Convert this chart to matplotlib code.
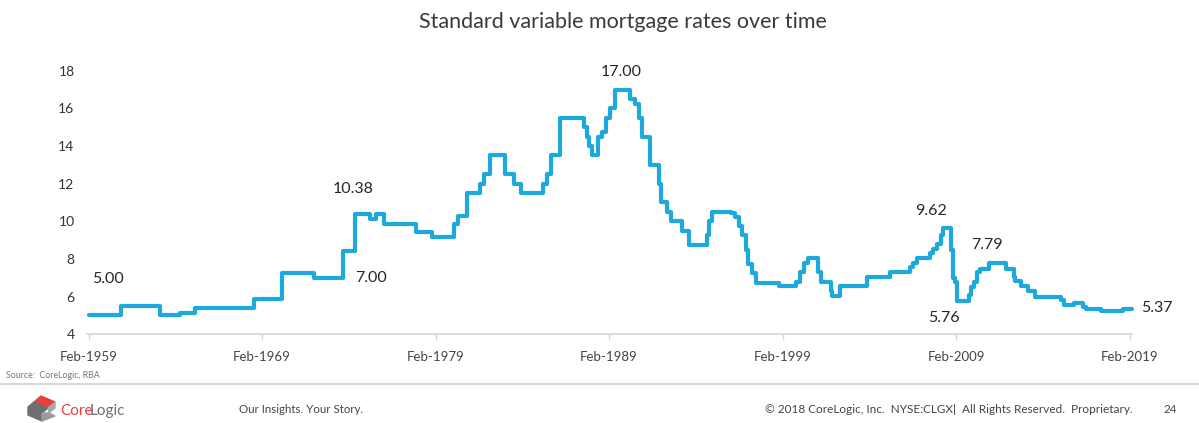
import numpy as np
import matplotlib
matplotlib.use("Agg")
import matplotlib.pyplot as plt
from matplotlib.patches import Polygon

plt.rcParams['font.family'] = ['Lato', 'DejaVu Sans']

# Rate change points (decimal year, rate %)
years = [1959.08, 1960.97, 1963.22, 1964.37, 1965.23, 1968.59, 1970.22, 1972.08,
         1973.74, 1974.45, 1975.31, 1975.66, 1976.08, 1977.97, 1978.87, 1980.15,
         1980.40, 1980.90, 1981.62, 1981.85, 1982.20, 1983.10, 1983.62, 1984.00,
         1985.27, 1985.50, 1985.73, 1986.25, 1987.65, 1987.80, 1987.95, 1988.10,
         1988.45, 1988.70, 1988.90, 1989.15, 1989.45, 1990.30, 1990.60, 1990.80,
         1991.00, 1991.45, 1991.95, 1992.10, 1992.40, 1992.65, 1993.30, 1993.70,
         1994.70, 1994.85, 1995.00, 1996.10, 1996.35, 1996.55, 1996.75, 1996.95,
         1997.10, 1997.30, 1997.55, 1998.90, 1999.85, 2000.10, 2000.30, 2000.55,
         2001.10, 2001.30, 2001.85, 2001.95, 2002.40, 2003.95, 2005.25, 2006.40,
         2006.60, 2006.85, 2007.60, 2007.75, 2008.00, 2008.20, 2008.35, 2008.80,
         2008.90, 2009.00, 2009.15, 2009.85, 2009.95, 2010.10, 2010.30, 2010.45,
         2010.95, 2011.95, 2012.40, 2012.50, 2012.85, 2013.20, 2013.65, 2015.15,
         2015.30, 2015.90, 2016.40, 2016.55, 2017.45, 2018.70, 2018.95, 2019.20]
rates = [5.00, 5.50, 5.00, 5.13, 5.38, 5.90, 7.25, 7.00,
         8.42, 10.38, 10.13, 10.38, 9.88, 9.42, 9.17, 9.88,
         10.30, 11.50, 12.00, 12.50, 13.50, 12.50, 12.00, 11.50,
         12.00, 12.50, 13.50, 15.50, 15.00, 14.50, 14.00, 13.50,
         14.50, 14.75, 15.50, 16.00, 17.00, 16.50, 16.25, 15.50,
         14.50, 13.00, 12.00, 11.00, 10.50, 10.00, 9.50, 8.75,
         9.25, 10.00, 10.50, 10.45, 10.25, 9.75, 9.25, 8.50,
         7.75, 7.25, 6.75, 6.55, 6.80, 7.30, 7.80, 8.05,
         7.30, 6.80, 6.30, 6.05, 6.55, 7.05, 7.30, 7.55,
         7.80, 8.05, 8.30, 8.55, 8.80, 9.30, 9.62, 8.50,
         7.00, 6.80, 5.76, 6.10, 6.50, 6.80, 7.30, 7.45,
         7.79, 7.45, 7.05, 6.85, 6.55, 6.30, 6.00, 5.80,
         5.55, 5.68, 5.45, 5.33, 5.24, 5.33, 5.37, 5.37]

tick_years = [1959.08, 1969.08, 1979.08, 1989.08, 1999.08, 2009.08, 2019.08]
tick_labels = ['Feb-1959', 'Feb-1969', 'Feb-1979', 'Feb-1989', 'Feb-1999', 'Feb-2009', 'Feb-2019']

# Highlighted values: (label, x, y, ha)
callouts = [('5.00', 1960.22, 6.94, 'center'),
            ('10.38', 1974.34, 11.72, 'center'),
            ('7.00', 1975.38, 6.99, 'center'),
            ('17.00', 1989.77, 17.93, 'center'),
            ('9.62', 2007.64, 10.55, 'center'),
            ('7.79', 2010.87, 8.74, 'center'),
            ('5.76', 2008.39, 4.87, 'center'),
            ('5.37', 2019.75, 5.40, 'left')]

W, H = 1199, 423
fig = plt.figure(figsize=(W / 100, H / 100), dpi=100)
fig.patch.set_facecolor('white')

ax = fig.add_axes([87 / W, 1 - 334.3 / H, (1132 - 87) / W, (334.3 - 70.7) / H])
ax.plot(years, rates, drawstyle='steps-post', color='#1ea9dd', lw=3.0,
        solid_joinstyle='round', solid_capstyle='round', clip_on=False)
ax.set_xlim(1958.99, 2019.22)
ax.set_ylim(4, 18)
ax.set_yticks(range(4, 19, 2))
ax.set_xticks(tick_years)
ax.set_xticklabels(tick_labels)
for s in ['top', 'right', 'left']:
    ax.spines[s].set_visible(False)
ax.spines['bottom'].set_color('#d9d9d9')
ax.spines['bottom'].set_linewidth(1.3)
ax.tick_params(axis='y', length=0, pad=9, labelsize=10, labelcolor='#333333')
ax.tick_params(axis='x', length=4, width=1, color='#d9d9d9', pad=8,
               labelsize=9.5, labelcolor='#444444')

for txt, x, y, ha in callouts:
    ax.text(x, y, txt, ha=ha, va='center', fontsize=11.5, color='#262626', clip_on=False)

fig.text(623 / W, 1 - 22 / H, 'Standard variable mortgage rates over time',
         ha='center', va='center', fontsize=15.5, color='#3a3a3a')

# footer
fig.text(6 / W, 1 - 376 / H, 'Source:  CoreLogic, RBA', ha='left', va='center',
         fontsize=6.3, color='#777777')
fig.add_artist(plt.Line2D([0, 1], [1 - 384 / H, 1 - 384 / H], color='#d9d9d9', lw=1.5))
fig.text(239 / W, 1 - 409 / H, 'Our Insights. Your Story.', ha='left', va='center',
         fontsize=8.3, color='#444444')
fig.text(765 / W, 1 - 409 / H,
         '\u00a9 2018 CoreLogic, Inc.  NYSE:CLGX|  All Rights Reserved.  Proprietary.',
         ha='left', va='center', fontsize=8.5, color='#444444')
fig.text(1170 / W, 1 - 409 / H, '24', ha='center', va='center', fontsize=8.5, color='#444444')

# logo
lax = fig.add_axes([0, 0, 1, 1], facecolor='none')
lax.set_xlim(0, W)
lax.set_ylim(H, 0)
lax.axis('off')
lax.add_patch(Polygon([[41, 396], [55, 402], [48, 408], [34, 402]], closed=True, color='#e8413c'))
lax.add_patch(Polygon([[34, 402], [48, 408], [42, 413], [42, 421], [28, 415], [28, 407]],
                      closed=True, color='#6d6e70'))
lax.add_patch(Polygon([[48, 408], [55, 402], [55, 408], [49, 413]], closed=True, color='#a7a9ac'))
lax.add_patch(Polygon([[42, 413], [49, 413], [55, 416], [42, 421]], closed=True, color='#9a9b9d'))
fig.text(60 / W, 1 - 411 / H, 'Core', ha='left', va='center', fontsize=11, color='#e8413c')
fig.text(90 / W, 1 - 411 / H, 'Logic', ha='left', va='center', fontsize=11, color='#6d6e70')

fig.savefig('out.png', dpi=100)
